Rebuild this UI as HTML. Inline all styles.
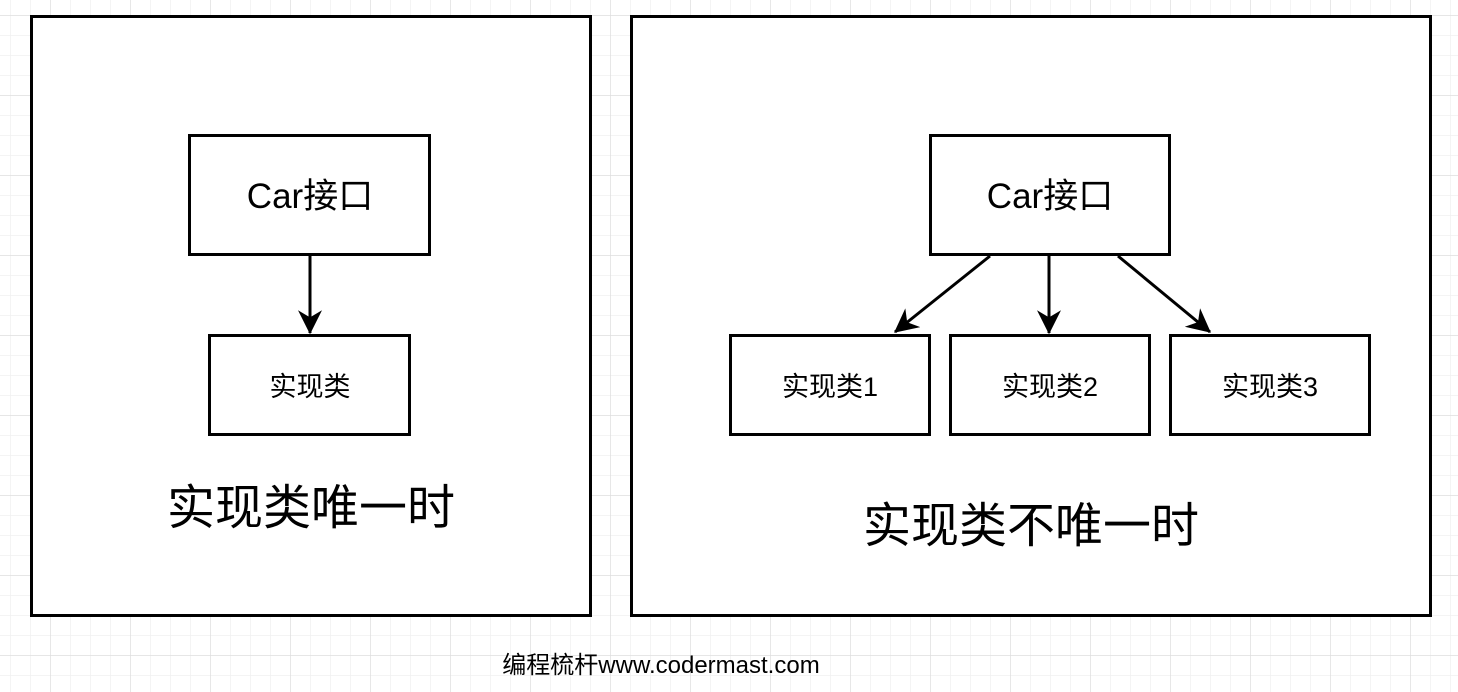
<!DOCTYPE html>
<html><head><meta charset="utf-8"><style>
html,body{margin:0;padding:0;background:#fff}
svg{display:block}
text{font-family:"Liberation Sans","Noto Sans CJK SC",sans-serif;fill:#000}
</style></head><body>
<svg width="1458" height="692" viewBox="0 0 1458 692" xmlns="http://www.w3.org/2000/svg">
<defs>
<pattern id="minor" x="10" y="15" width="20" height="20" patternUnits="userSpaceOnUse">
<path d="M0 0H20M0 0V20" stroke="#f0f0f0" stroke-width="1.5" fill="none"/>
</pattern>
<pattern id="major" x="50" y="15" width="80" height="80" patternUnits="userSpaceOnUse">
<path d="M0 0H80M0 0V80" stroke="#dcdcdc" stroke-width="1.2" fill="none"/>
</pattern>
<marker id="ah" viewBox="0 0 10 10" refX="9.5" refY="5" markerWidth="26" markerHeight="24" orient="auto" markerUnits="userSpaceOnUse">
<path d="M0 0L10 5L0 10L3 5Z" fill="#000"/>
</marker>
</defs>
<rect width="1458" height="692" fill="url(#minor)"/>
<rect width="1458" height="692" fill="url(#major)"/>
<g fill="#fff" stroke="#000" stroke-width="3">
<rect x="31.5" y="16.5" width="559" height="599"/>
<rect x="631.5" y="16.5" width="799" height="599"/>
<rect x="189.5" y="135.5" width="240" height="119"/>
<rect x="209.5" y="335.5" width="200" height="99"/>
<rect x="930.5" y="135.5" width="239" height="119"/>
<rect x="730.5" y="335.5" width="199" height="99"/>
<rect x="950.5" y="335.5" width="199" height="99"/>
<rect x="1170.5" y="335.5" width="199" height="99"/>
</g>
<g stroke="#000" stroke-width="3" fill="none" marker-end="url(#ah)">
<line x1="310" y1="255" x2="310" y2="333"/>
<line x1="990" y1="256" x2="895" y2="332"/>
<line x1="1049" y1="256" x2="1049" y2="333"/>
<line x1="1118" y1="256" x2="1210" y2="332"/>
</g>
<g text-anchor="middle">
<text x="310" y="208" font-size="35">Car接口</text>
<text x="310" y="396" font-size="27">实现类</text>
<text x="311" y="524" font-size="48">实现类唯一时</text>
<text x="1050" y="208" font-size="35">Car接口</text>
<text x="830" y="396" font-size="27">实现类1</text>
<text x="1050" y="396" font-size="27">实现类2</text>
<text x="1270" y="396" font-size="27">实现类3</text>
<text x="1031" y="542" font-size="48">实现类不唯一时</text>
<text x="661" y="673" font-size="24">编程梳杆www.codermast.com</text>
</g>
</svg>
</body></html>
